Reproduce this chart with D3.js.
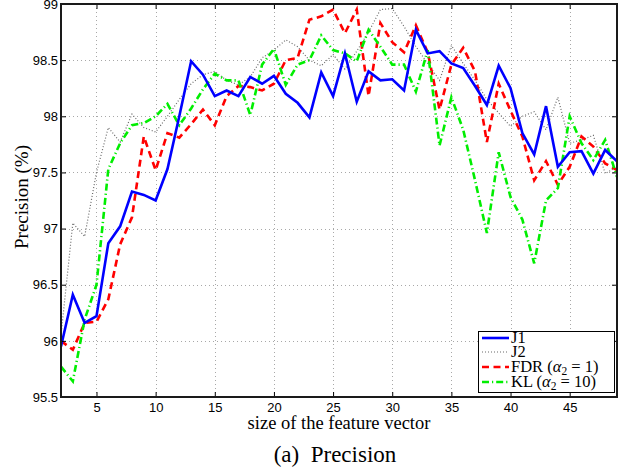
<!DOCTYPE html>
<html><head><meta charset="utf-8">
<script src="https://cdn.jsdelivr.net/npm/d3@7"></script>
<style>body{margin:0;background:#fff}svg{display:block}</style>
</head><body>
<svg id="c" width="626" height="467"></svg>
<script>
const xs = d3.range(2, 50);
const J1 = [95.95,96.41,96.16,96.22,96.87,97.02,97.33,97.30,97.25,97.53,98.00,98.49,98.37,98.18,98.23,98.18,98.35,98.29,98.36,98.20,98.12,97.99,98.39,98.18,98.56,98.13,98.40,98.32,98.33,98.23,98.77,98.56,98.58,98.47,98.43,98.27,98.10,98.45,98.25,97.85,97.66,98.09,97.55,97.68,97.69,97.49,97.70,97.60];
const J2 = [96.05,97.05,96.93,97.50,97.90,97.77,98.02,97.90,97.86,98.00,98.15,98.29,98.37,98.40,98.32,98.28,98.35,98.52,98.59,98.68,98.62,98.50,98.45,98.55,98.42,98.58,98.75,98.95,98.96,98.80,98.62,98.47,98.32,98.63,98.47,98.32,98.15,98.03,97.91,98.00,98.04,97.88,98.17,97.76,97.79,97.83,97.49,97.55];
const FDR = [96.00,95.92,96.16,96.17,96.37,96.86,97.10,97.82,97.52,97.85,97.81,97.93,98.06,97.92,98.18,98.27,98.26,98.23,98.29,98.50,98.52,98.86,98.89,98.95,98.74,98.95,98.18,98.83,98.66,98.57,98.81,98.57,98.06,98.46,98.61,98.40,97.77,98.29,98.05,97.82,97.43,97.60,97.39,97.55,97.82,97.73,97.58,97.52];
const KL = [95.77,95.64,96.19,96.50,97.53,97.76,97.92,97.94,98.00,98.11,97.92,98.07,98.24,98.38,98.32,98.32,98.01,98.46,98.60,98.28,98.46,98.50,98.72,98.59,98.56,98.49,98.77,98.62,98.46,98.46,98.22,98.59,97.74,98.17,97.88,97.43,96.96,97.68,97.28,97.08,96.69,97.25,97.36,98.00,97.76,97.61,97.79,97.46];
const xTicks = [5,10,15,20,25,30,35,40,45];
const yTicks = [95.5,96,96.5,97,97.5,98,98.5,99];
const seriesNames = ["J1","J2","FDR","KL"];

const L = 61, R = 617, T = 4, B = 397;
const svg = d3.select("#c");
const x = d3.scaleLinear().domain([2,49]).range([L,R]);
const y = d3.scaleLinear().domain([95.5,99]).range([B,T]);

// grid
const grid = svg.append("g").attr("stroke","#a8a8a8").attr("stroke-width",1).attr("stroke-dasharray","1,3");
xTicks.forEach(t=>grid.append("line").attr("x1",Math.round(x(t))+0.5).attr("x2",Math.round(x(t))+0.5).attr("y1",T).attr("y2",B));
yTicks.slice(1,-1).forEach(t=>grid.append("line").attr("y1",Math.round(y(t))+0.5).attr("y2",Math.round(y(t))+0.5).attr("x1",L).attr("x2",R));

const styles = {
  J2:{color:"#6a6a6a", w:1.2, dash:"1,2"},
  FDR:{color:"#ff0000", w:2.6, dash:"7,4.5"},
  KL:{color:"#00ee00", w:2.6, dash:"7,3,1.2,3"},
  J1:{color:"#0000ff", w:2.6, dash:null}
};
const data = {J1,J2,FDR,KL};
const line = d3.line().x((d,i)=>x(xs[i])).y(d=>y(d));
svg.append("clipPath").attr("id","cp").append("rect").attr("x",L).attr("y",T).attr("width",R-L).attr("height",B-T);
const lg = svg.append("g").attr("clip-path","url(#cp)");
["J2","FDR","KL","J1"].forEach(k=>{
  const s = styles[k];
  lg.append("path").datum(data[k]).attr("d",line).attr("fill","none")
    .attr("stroke",s.color).attr("stroke-width",s.w).attr("stroke-dasharray",s.dash)
    .attr("stroke-linejoin","miter");
});

// axes frame with inward ticks
const ax = svg.append("g");
const xb = d3.axisBottom(x).tickValues(xTicks).tickSizeInner(-5).tickSizeOuter(0).tickPadding(6);
const xt = d3.axisTop(x).tickValues(xTicks).tickSizeInner(-5).tickSizeOuter(0).tickFormat("");
const yl = d3.axisLeft(y).tickValues(yTicks).tickSizeInner(-5).tickSizeOuter(0).tickPadding(3).tickFormat(d3.format("~g"));
const yr = d3.axisRight(y).tickValues(yTicks).tickSizeInner(-5).tickSizeOuter(0).tickFormat("");
ax.append("g").attr("transform",`translate(0,${B})`).call(xb);
ax.append("g").attr("transform",`translate(0,${T})`).call(xt);
ax.append("g").attr("transform",`translate(${L},0)`).call(yl);
ax.append("g").attr("transform",`translate(${R},0)`).call(yr);
ax.selectAll(".domain").remove();
ax.selectAll(".tick line").attr("stroke","#000").attr("stroke-width",1);
ax.selectAll(".tick text").attr("font-family","'Liberation Sans', Arial, sans-serif").attr("font-size",13).attr("fill","#000");
svg.append("rect").attr("x",L).attr("y",T).attr("width",R-L).attr("height",B-T).attr("fill","none").attr("stroke","#1a1a1a").attr("stroke-width",2);

const serif = "'Liberation Serif','Times New Roman',serif";
svg.append("text").attr("x",339).attr("y",429).attr("text-anchor","middle").attr("font-family",serif).attr("font-size",18.5).text("size of the feature vector");
svg.append("text").attr("x",335).attr("y",462).attr("text-anchor","middle").attr("font-family",serif).attr("font-size",23).attr("xml:space","preserve").text("(a)  Precision");
svg.append("text").attr("transform",`translate(28,197) rotate(-90)`).attr("text-anchor","middle").attr("font-family",serif).attr("font-size",19).text("Precision (%)");

// legend
const lgX = 478, lgY = 331, lgW = 136, lgH = 61;
const leg = svg.append("g");
leg.append("rect").attr("x",lgX+0.5).attr("y",lgY+0.5).attr("width",lgW).attr("height",lgH).attr("fill","#fff").attr("stroke","#000").attr("stroke-width",1);
const labels = [
  {k:"J1", parts:[["J1",""]]},
  {k:"J2", parts:[["J2",""]]},
  {k:"FDR", parts:[["FDR (",""],["α","i"],["2","s"],[" = 1)",""]]},
  {k:"KL", parts:[["KL (",""],["α","i"],["2","s"],[" = 10)",""]]}
];
const rowsY = [338, 352, 367, 382];
labels.forEach((lb,i)=>{
  const s = styles[lb.k];
  const yy = rowsY[i];
  leg.append("line").attr("x1",482).attr("x2",509).attr("y1",yy).attr("y2",yy)
    .attr("stroke",s.color).attr("stroke-width",s.w).attr("stroke-dasharray",s.dash);
  const t = leg.append("text").attr("x",511).attr("y",yy+5).attr("font-family",serif).attr("font-size",16.5).attr("xml:space","preserve");
  lb.parts.forEach(([txt,st])=>{
    const ts = t.append("tspan").text(txt);
    if(st==="i") ts.attr("font-style","italic");
    if(st==="s") ts.attr("font-size",11.5).attr("dy",3);
    if(txt.startsWith(" =")) ts.attr("dy",-3);
  });
});
</script>
</body></html>
